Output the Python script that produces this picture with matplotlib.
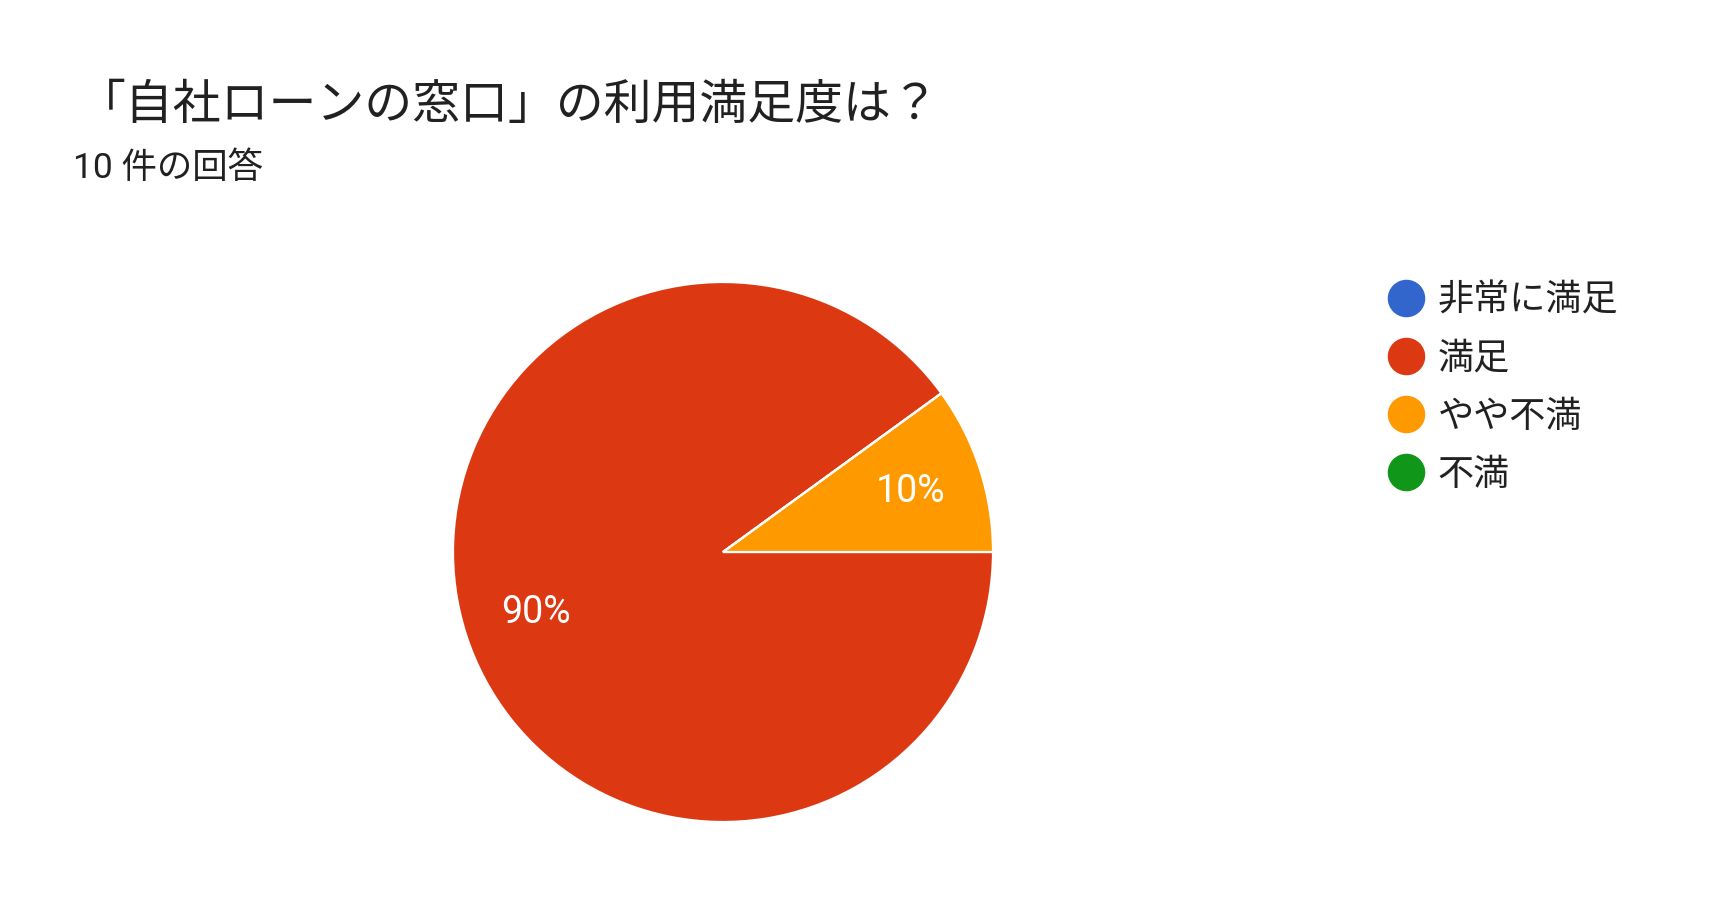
import matplotlib
matplotlib.use("Agg")
import matplotlib.pyplot as plt
from matplotlib.lines import Line2D

# データ
labels = ["非常に満足", "満足", "やや不満", "不満"]
counts = [0, 9, 1, 0]
colors = ["#3366CC", "#DC3912", "#FF9900", "#109618"]
title = "「自社ローンの窓口」の利用満足度は？"
subtitle = "10 件の回答"

fonts = ["Roboto", "Noto Sans CJK JP", "DejaVu Sans"]
plt.rcParams["font.family"] = fonts
text_col = "#212121"

W, H = 1735, 922
fig = plt.figure(figsize=(W / 100, H / 100), dpi=100, facecolor="white")

# 円グラフ: 中心 (723, 552) 半径 270 px
cx, cy, r = 723, 552, 270
ax = fig.add_axes([(cx - r) / W, (H - cy - r) / H, 2 * r / W, 2 * r / H])

def fmt(p):
    return "%d%%" % round(p) if p > 0 else ""

wedges, texts, autotexts = ax.pie(
    counts, colors=colors, startangle=36, counterclock=True,
    autopct=fmt, pctdistance=0.73, radius=1,
    wedgeprops=dict(edgecolor="white", linewidth=1.6),
    textprops=dict(color="white", fontsize=27, family=fonts))
ax.set_xlim(-1, 1)
ax.set_ylim(-1, 1)
ax.set_aspect("equal")
ax.axis("off")

# タイトル
fig.text(78 / W, 1 - 106 / H, title, fontsize=34.5, color=text_col,
         ha="left", va="center")
fig.text(73 / W, 1 - 168 / H, subtitle, fontsize=25.5, color=text_col,
         ha="left", va="center")

# 凡例
handles = [Line2D([], [], marker="o", linestyle="none", markersize=26,
                  markerfacecolor=c, markeredgecolor=c) for c in colors]
leg = fig.legend(handles, labels, loc="upper left",
                 bbox_to_anchor=(1386 / W, 1 - 283 / H),
                 frameon=False, fontsize=26, labelspacing=0.61,
                 handletextpad=0.33, handlelength=1.1, borderpad=0,
                 borderaxespad=0)
for t in leg.get_texts():
    t.set_color(text_col)

fig.savefig("out.png", dpi=100, facecolor="white")
